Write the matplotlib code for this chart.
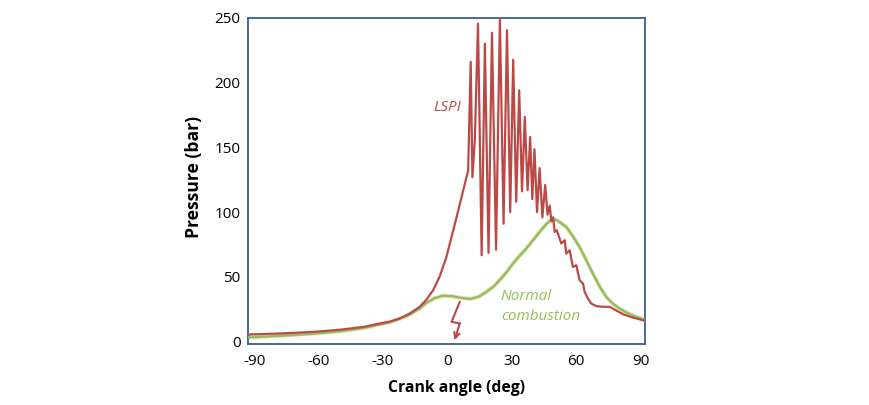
import matplotlib
matplotlib.use("Agg")
import matplotlib.pyplot as plt

plt.rcParams['font.family'] = ['Open Sans', 'DejaVu Sans']
plt.rcParams['axes.unicode_minus'] = False

# ---- data ----
# LSPI pressure trace
lspi_x = [-93, -75, -62, -50, -39, -31.4, -26.7, -22, -17.4, -12.8, -9.7, -6.6, -3.5, -0.4,
          4.3, 9.7, 10.9, 11.7, 12.8, 14.3,
          16.0, 17.5, 19.2, 20.8, 22.7, 24.5, 26.2, 27.8, 29.3, 30.7, 32.1, 33.5, 34.8, 36.1,
          37.4, 38.6, 39.6, 40.6, 41.8, 43.0, 44.3, 45.6, 46.7, 47.7, 48.5, 49.3,
          50.0, 51.0, 53.1, 54.7, 55.4, 57.0, 58.5, 60.1, 61.6, 63.2, 64.0, 65.5, 67.0,
          69.4, 72.5, 75.6, 77.9, 81.8, 86, 92]
lspi_y = [5.5, 6.5, 7.6, 9.2, 11.4, 14.0, 15.5, 18.0, 21.8, 26.9, 32.5, 39.7, 50.5, 65.4,
          96, 132, 216, 127, 155, 245.5,
          66.7, 230, 68.5, 238.5, 71, 249.4, 91, 240.4, 100, 217.7, 108, 194, 116, 173.5,
          117, 158, 110, 148.5, 100, 134, 96, 121, 98, 105, 93, 96,
          84.7, 86, 75.8, 78.3, 68, 70.6, 57.7, 59, 47.5, 44.9, 38.4, 33.3, 29.5,
          27.4, 26.9, 26.9, 24.8, 21.2, 18.8, 16.2]

# Normal combustion pressure trace
norm_x = [-93, -75, -62, -50, -39, -31.4, -26.7, -22, -17.4, -13, -9.7, -6, -2, 2.5, 7, 11,
          15, 18.2, 21.5, 24.4, 27.5, 30.6, 33.7, 36.8, 40, 43, 46, 48.5, 51, 53, 55.4,
          58.5, 61.6, 64.7, 67.8, 71, 74, 77, 80.2, 84, 88, 92]
norm_y = [3.2, 4.8, 6.2, 8.0, 10.5, 13.3, 15.0, 17.8, 21.0, 25.5, 30.0, 33.5, 35.5, 35.0,
          33.6, 33.0, 35.0, 38.4, 42.5, 47.5, 53.5, 60.3, 66.3, 71.9, 78.5, 84.7, 90.5,
          94.5, 93.8, 91.5, 88.6, 81.5, 73.1, 63.0, 52.6, 42.5, 34.6, 29.5, 25.6, 22.0,
          19.2, 16.8]

x_ticks = [-90, -60, -30, 0, 30, 60, 90]
y_ticks = [0, 50, 100, 150, 200, 250]

# ---- styling ----
RED = '#BB4A47'
GREEN = '#9BBB59'
FRAME = '#3B5F8C'

fig = plt.figure(figsize=(8.69, 4.05), dpi=100)
ax = fig.add_axes([0.285, 0.150, 0.457, 0.806])

ax.plot(norm_x, norm_y, color='#DCE8C6', lw=3.0, solid_capstyle='round', zorder=2)
ax.plot(norm_x, norm_y, color=GREEN, lw=1.7, zorder=3)
ax.plot(lspi_x, lspi_y, color=RED, lw=1.6, zorder=4, solid_joinstyle='round')

ax.set_xlim(-93, 92)
ax.set_ylim(-2, 250)
ax.set_xticks(x_ticks)
ax.set_yticks(y_ticks)
ax.tick_params(length=0, labelsize=11, colors='black')
ax.tick_params(axis='x', pad=7)
ax.tick_params(axis='y', pad=5)
for s in ax.spines.values():
    s.set_color(FRAME)
    s.set_linewidth(1.3)

ax.set_xlabel('Crank angle (deg)', fontsize=11.3, fontweight='bold')
ax.set_ylabel('Pressure (bar)', fontsize=12.6, fontweight='bold')
ax.xaxis.set_label_coords(0.525, -0.108)
ax.yaxis.set_label_coords(-0.112, 0.513)

ax.text(0.2, 181, 'LSPI', color=RED, fontsize=11, fontstyle='italic',
        ha='center', va='center')
ax.text(24.9, 34.6, 'Normal', color=GREEN, fontsize=11, fontstyle='italic',
        ha='left', va='center')
ax.text(24.9, 19.1, 'combustion', color=GREEN, fontsize=11, fontstyle='italic',
        ha='left', va='center')

# lightning-style arrow
ax.plot([5.8, 2.0, 5.8], [30.7, 15.3, 14.0], color=RED, lw=1.5, zorder=5)
ax.annotate('', xy=(3.4, 1.0), xytext=(5.8, 14.2),
            arrowprops=dict(arrowstyle='->', color=RED, lw=1.5,
                            shrinkA=0, shrinkB=0, mutation_scale=10))

fig.savefig('out.png', dpi=100)
